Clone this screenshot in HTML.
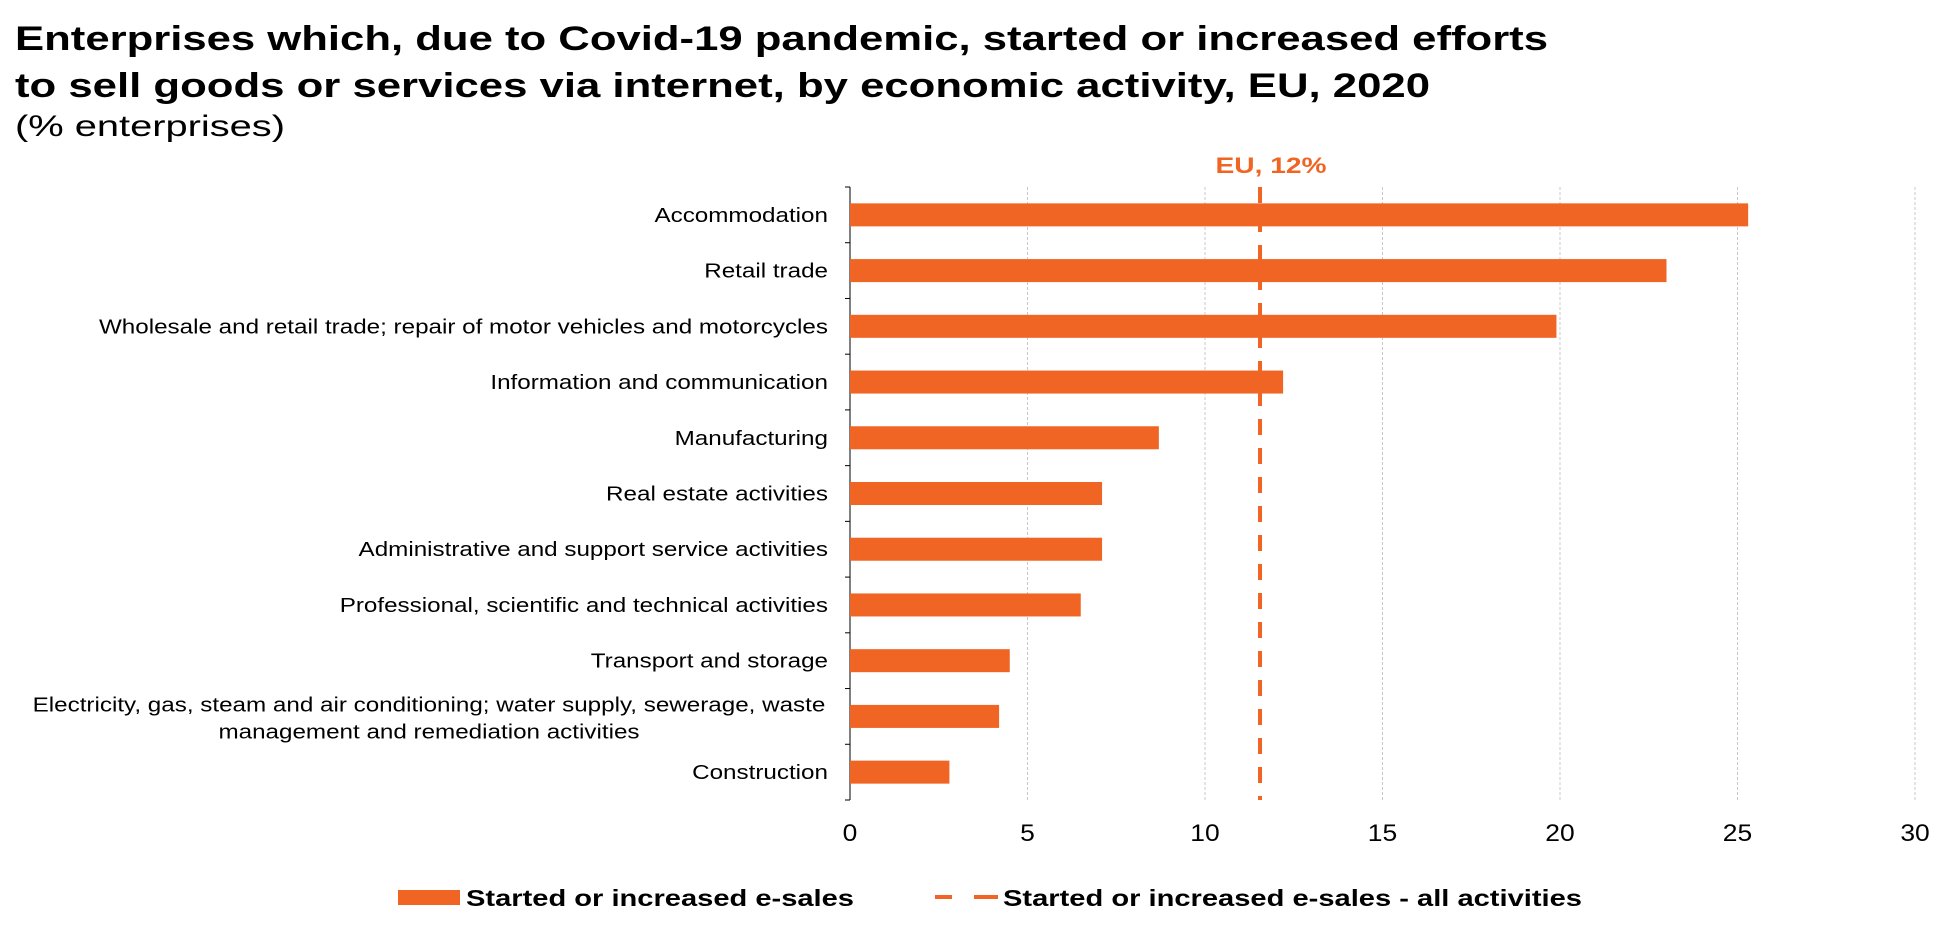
<!DOCTYPE html>
<html><head><meta charset="utf-8"><style>
html,body{margin:0;padding:0;background:#fff;}
svg{display:block;font-family:"Liberation Sans",Arial,sans-serif;}
</style></head><body>
<svg id="chart" width="1959" height="925" viewBox="0 0 1959 925">
<text x="15" y="50" font-size="34" font-weight="bold" fill="#000" textLength="1533" lengthAdjust="spacingAndGlyphs">Enterprises which, due to Covid-19 pandemic, started or increased efforts</text>
<text x="15" y="97" font-size="34" font-weight="bold" fill="#000" textLength="1415" lengthAdjust="spacingAndGlyphs">to sell goods or services via internet, by economic activity, EU, 2020</text>
<text x="15" y="136" font-size="30" fill="#000" textLength="270" lengthAdjust="spacingAndGlyphs">(% enterprises)</text>
<g id="grid"></g>
<g id="bars"></g>
<g id="ylabels"></g>
<g id="xlabels"></g>
<g id="eu"></g>
<g>
<rect x="398" y="890" width="62" height="15" fill="#F06424"/>
<text x="466" y="906" font-size="23" font-weight="bold" textLength="388" lengthAdjust="spacingAndGlyphs">Started or increased e-sales</text>
<line x1="935" y1="897" x2="998" y2="897" stroke="#F06424" stroke-width="4" stroke-dasharray="17,22,24"/>
<text x="1003" y="906" font-size="23" font-weight="bold" textLength="579" lengthAdjust="spacingAndGlyphs">Started or increased e-sales - all activities</text>
</g>
</svg>
<script>
const categories = ["Accommodation","Retail trade","Wholesale and retail trade; repair of motor vehicles and motorcycles","Information and communication","Manufacturing","Real estate activities","Administrative and support service activities","Professional, scientific and technical activities","Transport and storage","Electricity, gas, steam and air conditioning; water supply, sewerage, waste|management and remediation activities","Construction"];
const values = [25.3,23.0,19.9,12.2,8.7,7.1,7.1,6.5,4.5,4.2,2.8];
const euValue = 11.55;
const euLabel = "EU, 12%";
const xTicks = [0,5,10,15,20,25,30];

const NS="http://www.w3.org/2000/svg";
const x0=850, x1=1915, xMax=30, yTop=187, yBot=800;
const xs=v=>x0+(v/xMax)*(x1-x0);
const band=(yBot-yTop)/categories.length;
const yc=i=>yTop+band*(i+0.5);
function mk(tag,attrs,parent){const e=document.createElementNS(NS,tag);for(const k in attrs)e.setAttribute(k,attrs[k]);parent.appendChild(e);return e;}
function stretch(e,f){const w=e.getComputedTextLength();e.setAttribute('textLength',w*f);e.setAttribute('lengthAdjust','spacingAndGlyphs');}
const grid=document.getElementById('grid'),bars=document.getElementById('bars'),yl=document.getElementById('ylabels'),xl=document.getElementById('xlabels'),eu=document.getElementById('eu');
xTicks.forEach(t=>{
  if(t>0){const l=mk('line',{x1:xs(t),x2:xs(t),y1:yTop,y2:yBot,stroke:'#c8c8c8','stroke-width':1,'stroke-dasharray':'3,2'},grid);
  
  }
  const tx=mk('text',{x:xs(t),y:841,'font-size':24,'text-anchor':'middle',fill:'#000'},xl);
  tx.textContent=t;
  
  
  stretch(tx,1.1);
});
const ax=mk('line',{x1:x0,x2:x0,y1:yTop,y2:yBot,stroke:'#000','stroke-width':1},grid);


for(let i=0;i<=categories.length;i++){
  const tk=mk('line',{x1:x0-5,x2:x0,y1:yTop+band*i,y2:yTop+band*i,stroke:'#000','stroke-width':1},grid);
  
  
}
categories.forEach((c,i)=>{
  const r=mk('rect',{x:x0,y:yc(i)-11.5,width:xs(values[i])-x0,height:23,fill:'#F06424'},bars);
  
  
  const parts=c.split('|');
  const t=mk('text',{'font-size':20,fill:'#000'},yl);
  
  
  if(parts.length===1){
    t.setAttribute('x',828);t.setAttribute('y',yc(i)+7);t.setAttribute('text-anchor','end');t.textContent=c;
    stretch(t,1.21);
  } else {
    t.setAttribute('text-anchor','middle');
    parts.forEach((p,k)=>{const s=mk('tspan',{x:429,y:yc(i)-5+k*27},t);s.textContent=p;stretch(s,1.21);});
  }
});
const el=mk('line',{x1:xs(euValue),x2:xs(euValue),y1:yTop,y2:yBot,stroke:'#F06424','stroke-width':4,'stroke-dasharray':'16,13'},eu);


const et=mk('text',{x:xs(euValue)+11,y:173,'font-size':22,'font-weight':'bold','text-anchor':'middle',fill:'#F06424'},eu);
et.textContent=euLabel;


stretch(et,1.28);
</script>
</body></html>
